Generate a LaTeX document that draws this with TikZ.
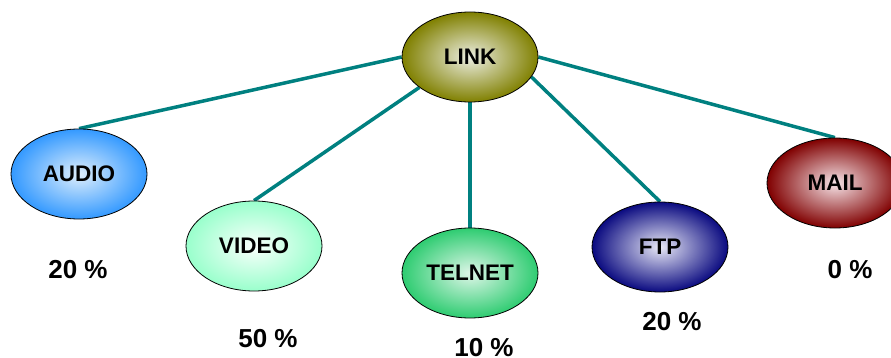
\documentclass[tikz,border=0pt]{standalone}
\usepackage{fontspec}
\setmainfont{Liberation Sans}
\usetikzlibrary{shapes.geometric,backgrounds}

\definecolor{linkouter}{RGB}{128,128,0}
\definecolor{linkinner}{RGB}{236,238,226}
\definecolor{audioouter}{RGB}{51,153,255}
\definecolor{audioinner}{RGB}{222,238,252}
\definecolor{videoouter}{RGB}{153,255,204}
\definecolor{videoinner}{RGB}{250,255,252}
\definecolor{telnetouter}{RGB}{46,204,113}
\definecolor{telnetinner}{RGB}{222,246,232}
\definecolor{ftpouter}{RGB}{10,10,128}
\definecolor{ftpinner}{RGB}{232,232,246}
\definecolor{mailouter}{RGB}{128,0,0}
\definecolor{mailinner}{RGB}{246,228,232}
\definecolor{wire}{RGB}{0,128,128}

\tikzset{
  bubble/.style n args={2}{ellipse, draw=black, line width=0.8pt,
    minimum width=136pt, minimum height=90pt, inner sep=0pt,
    inner color=#1, outer color=#2,
    font=\fontsize{22.5}{26}\selectfont\bfseries},
  pct/.style={inner sep=0pt, font=\fontsize{26}{30}\selectfont\bfseries},
  wireline/.style={draw=wire, line width=3.5pt}
}

\begin{document}
\begin{tikzpicture}[x=1pt,y=-1pt]
  \useasboundingbox (0,0) rectangle (891,358);

  % categories
  \node[bubble={linkinner}{linkouter}]     (link)   at (470,57)  {LINK};
  \node[bubble={audioinner}{audioouter}]   (audio)  at (79,174)  {AUDIO};
  \node[bubble={videoinner}{videoouter}]   (video)  at (254,246) {VIDEO};
  \node[bubble={telnetinner}{telnetouter}] (telnet) at (470,273) {TELNET};
  \node[bubble={ftpinner}{ftpouter}]       (ftp)    at (660,247) {FTP};
  \node[bubble={mailinner}{mailouter}]     (mail)   at (835,183) {MAIL};

  % shares
  \node[pct] (paudio)  at (78,270)  {20 \%};
  \node[pct] (pvideo)  at (268,339) {50 \%};
  \node[pct] (ptelnet) at (484,348) {10 \%};
  \node[pct] (pftp)    at (672,322) {20 \%};
  \node[pct] (pmail)   at (850,270) {0 \%};

  % connectors behind the bubbles
  \begin{scope}[on background layer]
    \draw[wireline] (link.west)  -- (audio.north);
    \draw[wireline] (link.211)   -- (video.north);
    \draw[wireline] (link.south) -- (telnet.north);
    \draw[wireline] (link.-18)   -- (ftp.north);
    \draw[wireline] (link.east)  -- (mail.north);
  \end{scope}
\end{tikzpicture}
\end{document}
